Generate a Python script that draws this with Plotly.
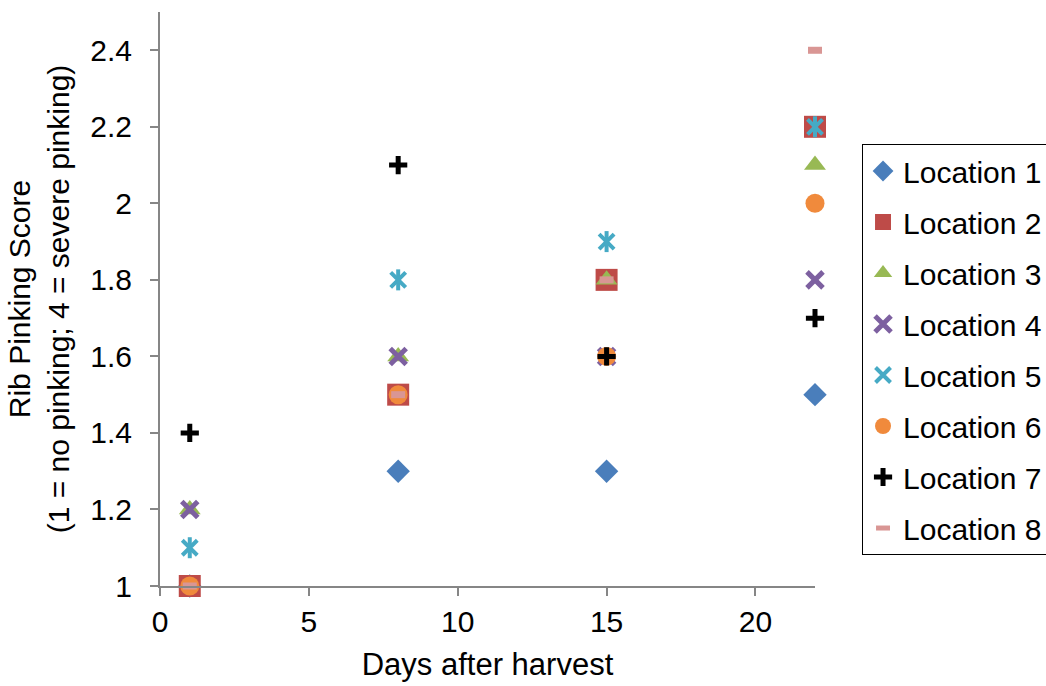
import plotly.graph_objects as go

days = [1, 8, 15, 22]
loc1 = [1.0, 1.3, 1.3, 1.5]
loc2 = [1.0, 1.5, 1.8, 2.2]
loc3 = [1.2, 1.6, 1.8, 2.1]
loc4 = [1.2, 1.6, 1.6, 1.8]
loc5 = [1.1, 1.8, 1.9, 2.2]
loc6 = [1.0, 1.5, 1.6, 2.0]
loc7 = [1.4, 2.1, 1.6, 1.7]
loc8 = [1.0, 1.5, 1.8, 2.4]
names = ["Location 1", "Location 2", "Location 3", "Location 4",
         "Location 5", "Location 6", "Location 7", "Location 8"]
x_title = "Days after harvest"
y_title = "Rib Pinking Score<br>(1 = no pinking; 4 = severe pinking)"

series = [loc1, loc2, loc3, loc4, loc5, loc6, loc7, loc8]
styles = [
    dict(symbol="diamond", size=18, color="#4A7EBB", line=dict(width=0)),
    dict(symbol="square", size=22, color="#BE4B48", line=dict(width=0)),
    dict(symbol="triangle-up", size=19, color="#98B954", line=dict(width=0)),
    dict(symbol="x-thin-open", size=16, color="#7D60A0", line=dict(width=5, color="#7D60A0")),
    dict(symbol="x-thin-open", size=15, color="#46AAC5", line=dict(width=4, color="#46AAC5")),
    dict(symbol="circle", size=19, color="#F08A3C", line=dict(width=0)),
    dict(symbol="cross-thin-open", size=13, color="#000000", line=dict(width=5, color="#000000")),
    dict(symbol="line-ew-open", size=10, color="#D99694", line=dict(width=7, color="#D99694")),
]

fig = go.Figure()
for i, (name, ys, st) in enumerate(zip(names, series, styles)):
    fig.add_trace(go.Scatter(
        x=days, y=ys, mode="markers", name=name, legendgroup=name,
        marker=st, cliponaxis=False))
    if i == 4:
        fig.add_trace(go.Scatter(
            x=days, y=ys, mode="markers", name=name, legendgroup=name,
            showlegend=False, cliponaxis=False,
            marker=dict(symbol="line-ns-open", size=15, color="#46AAC5",
                        line=dict(width=4, color="#46AAC5"))))

axis_common = dict(
    showline=True, linecolor="#868686", linewidth=2,
    ticks="outside", ticklen=8, tickwidth=2, tickcolor="#868686",
    showgrid=False, zeroline=False,
    tickfont=dict(size=30, color="black"),
)

fig.update_xaxes(range=[0, 22], dtick=5, tick0=0,
                 title=dict(text=x_title, font=dict(size=31, color="black"), standoff=16),
                 **axis_common)
fig.update_yaxes(range=[1, 2.5], dtick=0.2, tick0=1,
                 title=dict(text=y_title, font=dict(size=30, color="black"), standoff=12),
                 ticklabelstandoff=12,
                 **axis_common)

fig.update_layout(
    width=1046, height=686,
    margin=dict(l=160, r=231, t=12, b=100, autoexpand=False),
    paper_bgcolor="white", plot_bgcolor="white",
    font=dict(family="Liberation Sans, Arial, sans-serif", size=30, color="black"),
    showlegend=True,
    legend=dict(x=1.0718, y=0.770, xanchor="left", yanchor="top",
                bgcolor="white", bordercolor="black", borderwidth=1,
                font=dict(size=30, color="black"), tracegroupgap=9,
                itemwidth=30),
)

fig.write_html("out.html")
